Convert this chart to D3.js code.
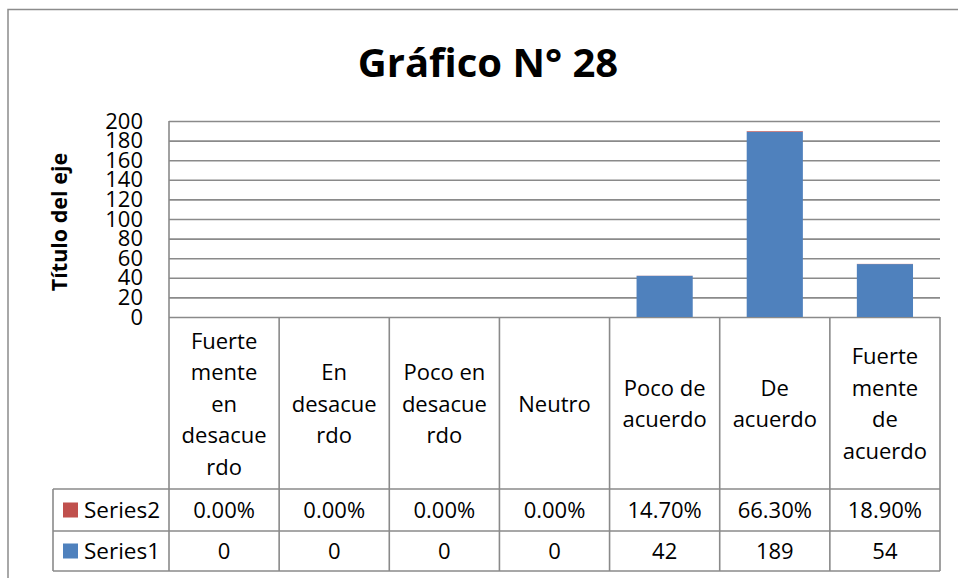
<!DOCTYPE html>
<html>
<head>
<meta charset="utf-8">
<script src="https://cdn.jsdelivr.net/npm/d3@7"></script>
<style>
  html, body { margin: 0; padding: 0; background: #fff; }
  svg { display: block; }
  text { font-family: "Open Sans", sans-serif; fill: #000; }
</style>
</head>
<body>
<svg id="chart" width="958" height="578"></svg>
<script>
// ---- data ----
const titleText = "Gráfico N° 28";
const yAxisTitle = "Título del eje";
const categories = ["Fuertemente en desacuerdo", "En desacuerdo", "Poco en desacuerdo", "Neutro", "Poco de acuerdo", "De acuerdo", "Fuertemente de acuerdo"];
const categoryLines = [
  ["Fuerte", "mente", "en", "desacue", "rdo"],
  ["En", "desacue", "rdo"],
  ["Poco en", "desacue", "rdo"],
  ["Neutro"],
  ["Poco de", "acuerdo"],
  ["De", "acuerdo"],
  ["Fuerte", "mente", "de", "acuerdo"]
];
const series1 = [0, 0, 0, 0, 42, 189, 54];
const series2 = [0, 0, 0, 0, 0.147, 0.663, 0.189];
const seriesNames = ["Series1", "Series2"];
const seriesColors = ["#4F81BD", "#C0504D"];
const yTicks = [0, 20, 40, 60, 80, 100, 120, 140, 160, 180, 200];

// ---- layout ----
const svg = d3.select("#chart");
const plotL = 169, plotR = 940, plotT = 121, plotB = 317;
const rowSeries2Top = 489, rowSeries1Top = 531, tableBottom = 571, legendL = 53;
const gridColor = "#8a8a8a";

// outer frame
svg.append("rect")
  .attr("x", 8).attr("y", 9.5).attr("width", 1200).attr("height", 1200)
  .attr("fill", "none").attr("stroke", "#8c8c8c").attr("stroke-width", 1.5);

// title
svg.append("text")
  .attr("x", 488).attr("y", 77)
  .attr("text-anchor", "middle")
  .style("font-size", "40px").style("font-weight", "bold")
  .text(titleText);

// scales
const x = d3.scaleBand().domain(categories).range([plotL, plotR])
  .paddingInner(0.49).paddingOuter(0.245);
const y = d3.scaleLinear().domain([0, 200]).range([plotB, plotT]);

// y axis with gridlines
const yAxis = d3.axisLeft(y).tickValues(yTicks)
  .tickSizeInner(-(plotR - plotL)).tickSizeOuter(0).tickPadding(26);
const gy = svg.append("g").attr("transform", `translate(${plotL},0)`).call(yAxis);
gy.select(".domain").remove();
gy.selectAll(".tick line").attr("stroke", gridColor).attr("stroke-width", 1.6);
gy.selectAll(".tick text")
  .style("font-family", "'Open Sans', sans-serif")
  .style("font-size", "22px").attr("fill", "#000");

// left axis line
svg.append("line")
  .attr("x1", plotL).attr("x2", plotL).attr("y1", plotT).attr("y2", plotB)
  .attr("stroke", gridColor).attr("stroke-width", 1.6);

// y axis title
svg.append("text")
  .attr("transform", `translate(67,${(plotT + plotB) / 2 + 3}) rotate(-90)`)
  .attr("text-anchor", "middle")
  .style("font-size", "21.5px").style("font-weight", "bold")
  .text(yAxisTitle);

// stacked bars
const stackData = categories.map((c, i) => ({ cat: c, Series1: series1[i], Series2: series2[i] }));
const stacked = d3.stack().keys(seriesNames)(stackData);
svg.append("g").selectAll("g").data(stacked).join("g")
  .attr("fill", (d, i) => seriesColors[i])
  .selectAll("rect").data(d => d).join("rect")
  .attr("x", d => x(d.data.cat))
  .attr("width", x.bandwidth())
  .attr("y", d => y(d[1]))
  .attr("height", d => Math.max(0, y(d[0]) - y(d[1])));

// ---- data table ----
const tg = svg.append("g");
const step = x.step();

// category labels
categories.forEach((c, i) => {
  const cx = plotL + step * (i + 0.5);
  const lines = categoryLines[i];
  const lh = 31.5;
  const cy = (plotB + rowSeries2Top) / 2 + 1;
  const t = tg.append("text").attr("text-anchor", "middle").style("font-size", "22px");
  lines.forEach((ln, k) => {
    t.append("tspan").attr("x", cx)
      .attr("y", cy + (k - (lines.length - 1) / 2) * lh)
      .attr("dy", "0.35em").text(ln);
  });
});

// table lines
const vLines = d3.range(categories.length + 1).map(i => plotL + step * i);
tg.selectAll("line.v").data(vLines).join("line")
  .attr("x1", d => d).attr("x2", d => d)
  .attr("y1", plotB).attr("y2", tableBottom)
  .attr("stroke", gridColor).attr("stroke-width", 1.6);
tg.append("line").attr("x1", legendL).attr("x2", legendL)
  .attr("y1", rowSeries2Top).attr("y2", tableBottom)
  .attr("stroke", gridColor).attr("stroke-width", 1.6);
[rowSeries2Top, rowSeries1Top, tableBottom].forEach(yy => {
  tg.append("line").attr("x1", legendL).attr("x2", plotR)
    .attr("y1", yy).attr("y2", yy)
    .attr("stroke", gridColor).attr("stroke-width", 1.6);
});

// rows
const fmtPct = d3.format(".2%");
const rows = [
  { name: seriesNames[1], color: seriesColors[1], vals: series2.map(fmtPct), top: rowSeries2Top, bot: rowSeries1Top },
  { name: seriesNames[0], color: seriesColors[0], vals: series1.map(v => String(v)), top: rowSeries1Top, bot: tableBottom }
];
rows.forEach(r => {
  const cy = (r.top + r.bot) / 2;
  tg.append("rect").attr("x", 63).attr("y", cy - 7.5).attr("width", 15).attr("height", 15).attr("fill", r.color);
  tg.append("text").attr("x", 84).attr("y", cy).attr("dy", "0.35em")
    .style("font-size", "22.5px").text(r.name);
  r.vals.forEach((v, i) => {
    tg.append("text").attr("x", plotL + step * (i + 0.5)).attr("y", cy).attr("dy", "0.35em")
      .attr("text-anchor", "middle").style("font-size", "22px").text(v);
  });
});
</script>
</body>
</html>
